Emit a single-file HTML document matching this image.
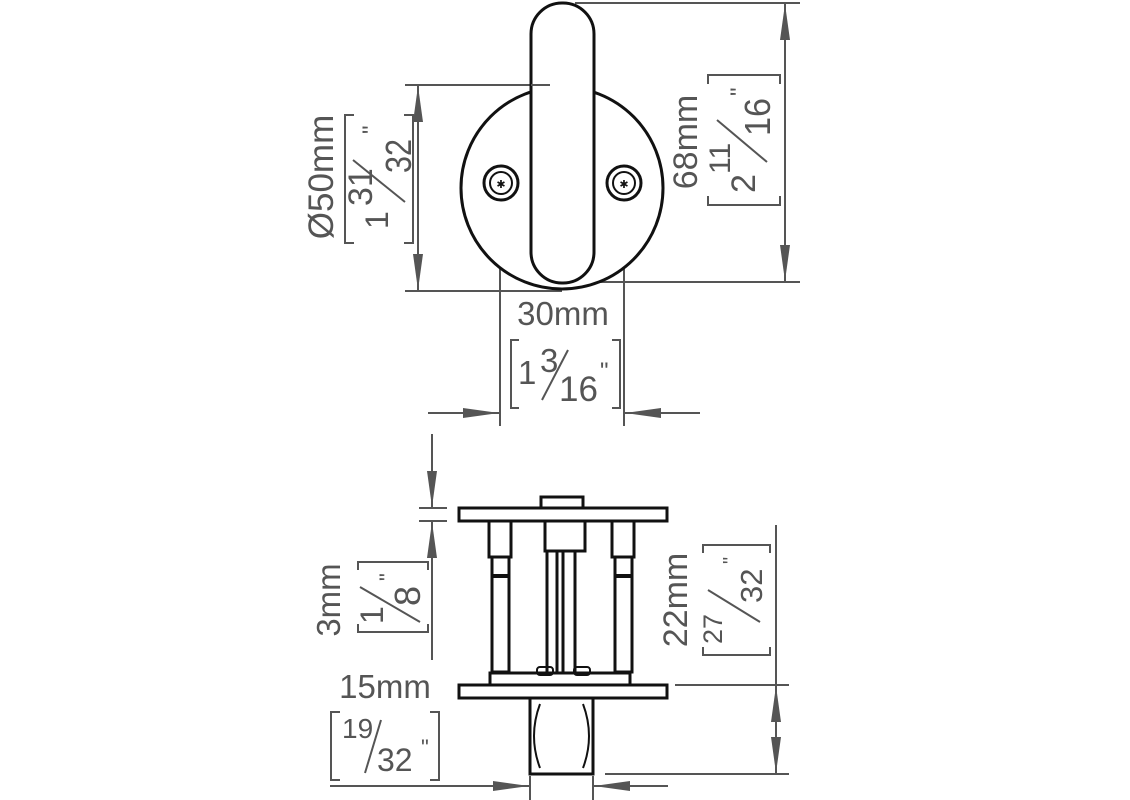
<!DOCTYPE html>
<html><head><meta charset="utf-8"><style>
html,body{margin:0;padding:0;background:#fff;}
svg{display:block;}
text{font-family:"Liberation Sans",sans-serif;fill:#555;}
</style></head><body>
<svg width="1130" height="800" viewBox="0 0 1130 800" xmlns="http://www.w3.org/2000/svg">
<defs>
<marker id="a" viewBox="0 0 36 10" refX="36" refY="5" markerWidth="36" markerHeight="10" markerUnits="userSpaceOnUse" orient="auto"><path d="M0,0 L36,5 L0,10 Z" fill="#555"/></marker>
</defs>
<g stroke="#555" stroke-width="2" fill="none">
<line x1="575" y1="3" x2="800" y2="3"/>
<line x1="580" y1="282" x2="800" y2="282"/>
<line x1="785" y1="140" x2="785" y2="4" marker-end="url(#a)"/>
<line x1="785" y1="140" x2="785" y2="281" marker-end="url(#a)"/>
<line x1="405" y1="85" x2="550" y2="85"/>
<line x1="405" y1="291" x2="562" y2="291"/>
<line x1="418" y1="188" x2="418" y2="86" marker-end="url(#a)"/>
<line x1="418" y1="188" x2="418" y2="290" marker-end="url(#a)"/>
<line x1="500" y1="195" x2="500" y2="426"/>
<line x1="624" y1="195" x2="624" y2="426"/>
<line x1="428" y1="413" x2="499" y2="413" marker-end="url(#a)"/>
<line x1="700" y1="413" x2="625" y2="413" marker-end="url(#a)"/>
<path d="M354,115 H345 V243 H354 M404,115 H413 V243 H404"/>
<path d="M708,84 V75 H780 V84 M708,196 V205 H780 V196"/>
<path d="M519,340 H511 V408 H519 M612,340 H620 V408 H612"/>
<path d="M358,570 V562 H428 V570 M358,624 V632 H428 V624"/>
<path d="M703,553 V545 H770 V553 M703,647 V655 H770 V647"/>
<path d="M340,712 H331 V780 H340 M430,712 H439 V780 H430"/>
<line x1="432" y1="434" x2="432" y2="507" marker-end="url(#a)"/>
<line x1="432" y1="660" x2="432" y2="522" marker-end="url(#a)"/>
<line x1="419" y1="508" x2="447" y2="508"/>
<line x1="419" y1="521" x2="447" y2="521"/>
<line x1="675" y1="685" x2="789" y2="685"/>
<line x1="605" y1="774" x2="789" y2="774"/>
<line x1="776" y1="525" x2="776" y2="686"/>
<line x1="776" y1="730" x2="776" y2="686" marker-end="url(#a)"/>
<line x1="776" y1="730" x2="776" y2="773" marker-end="url(#a)"/>
<line x1="330" y1="786" x2="529" y2="786" marker-end="url(#a)"/>
<line x1="668" y1="786" x2="594" y2="786" marker-end="url(#a)"/>
<line x1="530" y1="776" x2="530" y2="800"/>
<line x1="593" y1="776" x2="593" y2="800"/>
<line x1="542" y1="400" x2="568" y2="350"/>
<line x1="365" y1="773" x2="381" y2="720"/>
</g>
<g stroke="#111" stroke-width="3" fill="none">
<circle cx="562" cy="188" r="101" fill="#fff"/>
<rect x="531" y="3" width="63" height="280" rx="31" fill="#fff"/>
<circle cx="501" cy="183" r="17"/><circle cx="501" cy="183" r="11" stroke-width="2"/>
<circle cx="624" cy="183" r="17"/><circle cx="624" cy="183" r="11" stroke-width="2"/>
</g>
<line x1="531" y1="85" x2="550" y2="85" stroke="#555" stroke-width="2"/>
<text x="501" y="188" font-size="11" text-anchor="middle" style="fill:#111">✱</text>
<text x="624" y="188" font-size="11" text-anchor="middle" style="fill:#111">✱</text>
<g stroke="#111" stroke-width="3" fill="#fff">
<rect x="541" y="497" width="42" height="11"/>
<rect x="459" y="508" width="208" height="13"/>
<rect x="489" y="521" width="22" height="36"/>
<rect x="492" y="557" width="17" height="115"/>
<rect x="612" y="521" width="22" height="36"/>
<rect x="615" y="557" width="17" height="115"/>
<rect x="545" y="521" width="40" height="30"/>
<rect x="547" y="551" width="10" height="122"/>
<rect x="563" y="551" width="12" height="122"/>
<rect x="490" y="673" width="140" height="12"/>
<rect x="459" y="685" width="208" height="13"/>
<rect x="530" y="698" width="63" height="76"/>
</g>
<g stroke="#111" stroke-width="2" fill="none">
<path d="M540,704 Q528,736 540,768 M583,704 Q595,736 583,768"/>
<line x1="492" y1="576" x2="509" y2="576" stroke-width="4"/>
<line x1="615" y1="576" x2="632" y2="576" stroke-width="4"/>
<rect x="537" y="667" width="16" height="8" rx="3"/><rect x="574" y="667" width="16" height="8" rx="3"/>
</g>
<text x="563" y="325" font-size="33" text-anchor="middle">30mm</text>
<text x="518" y="384" font-size="33">1</text>
<text x="540" y="372" font-size="33">3</text>
<text x="559" y="401" font-size="35">16</text>
<text x="600" y="379" font-size="24">"</text>
<text x="385" y="698" font-size="33" text-anchor="middle">15mm</text>
<text x="342" y="738" font-size="28">19</text>
<text x="377" y="771" font-size="32">32</text>
<text x="421" y="755" font-size="22">"</text>
<g transform="translate(333,177) rotate(-90)"><text x="0" y="0" font-size="35" text-anchor="middle">Ø50mm</text></g>
<g transform="translate(379,179) rotate(-90)">
<text x="-50" y="9" font-size="32">1</text>
<text x="-27" y="-7" font-size="34">31</text>
<line x1="-23" y1="26" x2="19" y2="-26" stroke="#555" stroke-width="2"/>
<text x="6" y="32" font-size="36" textLength="34" lengthAdjust="spacingAndGlyphs">32</text>
<text x="45" y="0" font-size="24">"</text>
</g>
<g transform="translate(697,142) rotate(-90)"><text x="0" y="0" font-size="34" text-anchor="middle">68mm</text></g>
<g transform="translate(744,140) rotate(-90)">
<text x="-53" y="11" font-size="34">2</text>
<text x="-34" y="-14" font-size="30">11</text>
<line x1="-22" y1="23" x2="20" y2="-27" stroke="#555" stroke-width="2"/>
<text x="4" y="26" font-size="36" textLength="38" lengthAdjust="spacingAndGlyphs">16</text>
<text x="44" y="3" font-size="24">"</text>
</g>
<g transform="translate(340,600) rotate(-90)"><text x="0" y="0" font-size="33" text-anchor="middle">3mm</text></g>
<g transform="translate(393,597) rotate(-90)">
<text x="-27" y="-10" font-size="32">1</text>
<line x1="-25" y1="27" x2="10" y2="-33" stroke="#555" stroke-width="2"/>
<text x="-9" y="27" font-size="36">8</text>
<text x="16" y="2" font-size="22">"</text>
</g>
<g transform="translate(687,600) rotate(-90)"><text x="0" y="0" font-size="34" text-anchor="middle">22mm</text></g>
<g transform="translate(737,600) rotate(-90)">
<text x="-44" y="-15" font-size="27">27</text>
<line x1="-22" y1="23" x2="10" y2="-29" stroke="#555" stroke-width="2"/>
<text x="-3" y="25" font-size="31">32</text>
<text x="36" y="0" font-size="20">"</text>
</g>
</svg>
</body></html>
